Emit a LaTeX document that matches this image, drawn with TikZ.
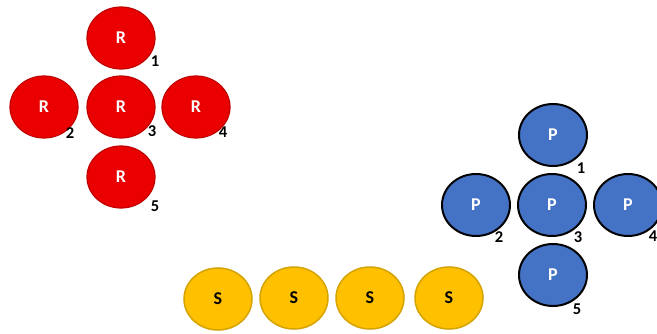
\documentclass[tikz,border=0pt]{standalone}
\usepackage{fontspec}
\setmainfont{Carlito}
\usetikzlibrary{shapes.geometric}
\definecolor{rfill}{HTML}{EA0000}
\definecolor{rdraw}{HTML}{C00000}
\definecolor{pfill}{HTML}{4472C4}
\definecolor{sfill}{HTML}{FFC000}
\definecolor{sdraw}{HTML}{D4A300}
\begin{document}
\begin{tikzpicture}[x=1pt,y=-1pt,
  ball/.style={ellipse,minimum width=68pt,minimum height=62pt,inner sep=0pt,font=\fontsize{18}{20}\selectfont\bfseries},
  rball/.style={ball,fill=rfill,draw=rdraw,line width=1.2pt,text=white},
  pball/.style={ball,fill=pfill,draw=black,line width=2pt,text=white},
  sball/.style={ball,fill=sfill,draw=sdraw,line width=1.5pt,text=black},
  num/.style={font=\fontsize{16.5}{18}\selectfont\bfseries,inner sep=0pt}]
\useasboundingbox (0,0) rectangle (657,334);
% Red
\node[rball] (r1) at (121,38) {R};
\node[rball] (r2) at (44,107) {R};
\node[rball] (r3) at (121,107) {R};
\node[rball] (r4) at (196,107) {R};
\node[rball] (r5) at (121,177) {R};
\node[num] (rl1) at (155,61) {1};
\node[num] (rl2) at (70,133) {2};
\node[num] (rl3) at (152,131) {3};
\node[num] (rl4) at (223,132) {4};
\node[num] (rl5) at (155,206) {5};
% Blue
\node[pball] (p1) at (553,135) {P};
\node[pball] (p2) at (476,205) {P};
\node[pball] (p3) at (552,205) {P};
\node[pball] (p4) at (628,205) {P};
\node[pball] (p5) at (553,275) {P};
\node[num] (pl1) at (581,168) {1};
\node[num] (pl2) at (499,237) {2};
\node[num] (pl3) at (578,237) {3};
\node[num] (pl4) at (653,236) {4};
\node[num] (pl5) at (577,309) {5};
% Yellow
\node[sball] (s1) at (218,299) {S};
\node[sball] (s2) at (294,298) {S};
\node[sball] (s3) at (370,298) {S};
\node[sball] (s4) at (449,298) {S};
\end{tikzpicture}
\end{document}
